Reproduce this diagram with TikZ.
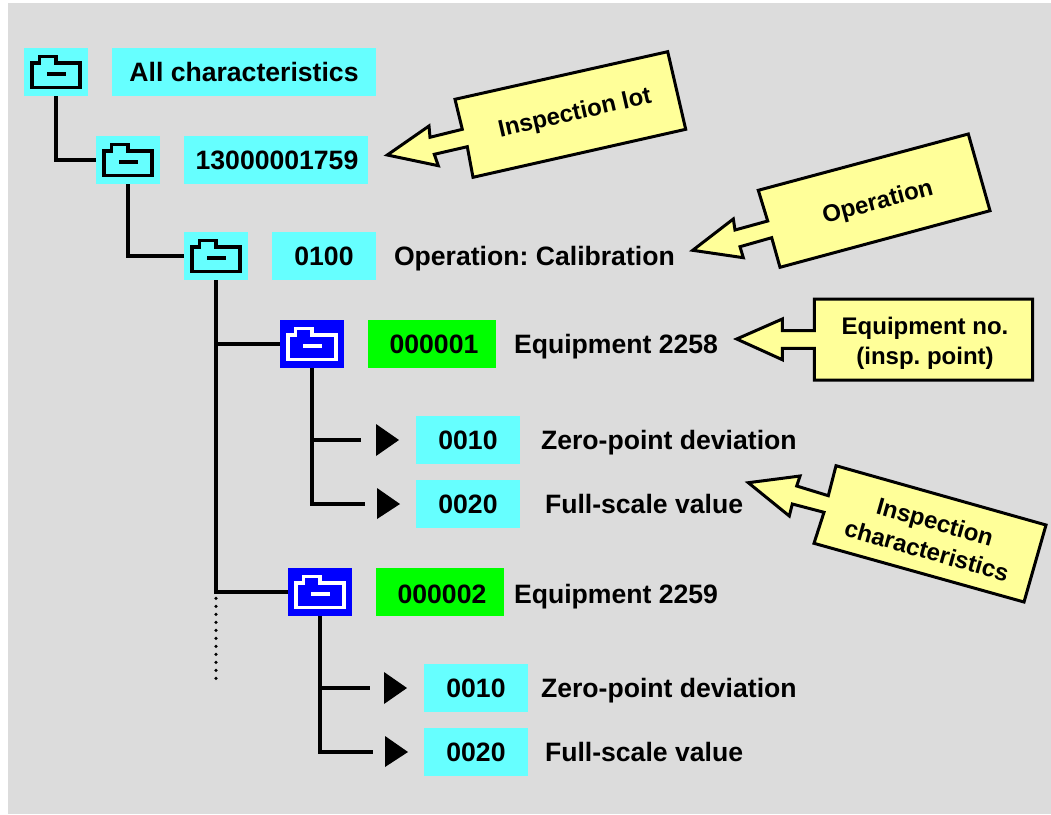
\documentclass[tikz,border=0pt]{standalone}
\usepackage{fontspec}
\setmainfont{Liberation Sans}
\frenchspacing
\definecolor{bggray}{HTML}{DCDCDC}
\definecolor{boxcyan}{HTML}{66FFFF}
\definecolor{boxgreen}{HTML}{00FF00}
\definecolor{boxblue}{HTML}{0000FF}
\definecolor{noteyellow}{HTML}{FFFF99}
\tikzset{
  every node/.style={inner sep=0pt,outer sep=0pt,font=\frenchspacing\fontsize{26.6}{30}\selectfont\bfseries},
  rowtext/.style={text height=33pt,text depth=15pt,minimum height=48pt},
  cell/.style={rowtext,fill=#1},
  iconcell/.style={minimum width=64pt,minimum height=48pt,fill=#1},
  label/.style={rowtext,anchor=west},
  link/.style={line width=4pt,black},
  dotlink/.style={black,line width=3.6pt,line cap=round,dash pattern=on 0pt off 8pt,dash phase=1.7pt},
  note/.style={draw=black,line width=3pt,fill=noteyellow,miter limit=10,line join=miter},
  notetext/.style={font=\frenchspacing\fontsize{24}{30}\selectfont\bfseries,align=center},
  folder/.pic={
    \draw[line width=3.6pt,draw=#1,line join=miter]
      (7.8,15.1)--(15.5,15.1)--(15.5,8.5)--(31.9,8.5)--(31.9,15.1)--(56.2,15.1)--(56.2,39.5)--(7.8,39.5)--cycle;
    \fill[#1] (23,23.7) rectangle (42,28);
  }
}
\begin{document}
\begin{tikzpicture}[x=1pt,y=-1pt]
\useasboundingbox (0,0) rectangle (1051,814);
\fill[bggray] (8,3) rectangle (1051,814);

% tree links
\coordinate (s1) at (361,440);
\coordinate (s2) at (365,504);
\coordinate (s3) at (370,688);
\coordinate (s4) at (373,752);
\coordinate (dotend) at (216,680.5);

% icon cells
\node[iconcell=boxcyan] (ic1) at (56,72) {};
\node[iconcell=boxcyan] (ic2) at (128,160) {};
\node[iconcell=boxcyan] (ic3) at (216,256) {};
\node[iconcell=boxblue] (ic4) at (312,344) {};
\node[iconcell=boxblue] (ic5) at (320,592) {};
\coordinate (b3) at (ic3.south |- ic5.west);
\coordinate (b3a) at (ic3.south |- ic4.west);

\draw[link] (ic1.south) |- (ic2.west);
\draw[link] (ic2.south) |- (ic3.west);
\draw[link] (ic3.south) -- (b3) -- (ic5.west);
\draw[link] (b3a) -- (ic4.west);
\draw[dotlink] (b3) -- (dotend);
\draw[link] (ic4.south) |- (s2);
\draw[link] (ic4.south |- s1) -- (s1);
\draw[link] (ic5.south) |- (s4);
\draw[link] (ic5.south |- s3) -- (s3);

\pic at (ic1.north west) {folder=black};
\pic at (ic2.north west) {folder=black};
\pic at (ic3.north west) {folder=black};
\pic at (ic4.north west) {folder=white};
\pic at (ic5.north west) {folder=white};

% triangles
\fill (376,424)--(399,440)--(376,456)--cycle;
\fill (377,488)--(400,504)--(377,519)--cycle;
\fill (384,672)--(407,688)--(384,704)--cycle;
\fill (385,736)--(408,752)--(385,767)--cycle;

% text cells
\node[cell=boxcyan,minimum width=264pt] (t1) at (244,72) {All characteristics};
\node[cell=boxcyan,minimum width=184pt] (t2) at (276,160) {\hspace{2pt}13000001759};
\node[cell=boxcyan,minimum width=104pt] (t3) at (324,256) {0100};
\node[cell=boxgreen,minimum width=128pt] (t4) at (432,344) {\hspace{4pt}000001};
\node[cell=boxcyan,minimum width=104pt] (t5) at (468,440) {0010};
\node[cell=boxcyan,minimum width=104pt] (t6) at (468,504) {0020};
\node[cell=boxgreen,minimum width=128pt] (t7) at (440,592) {\hspace{4pt}\raisebox{-2pt}{000002}};
\node[cell=boxcyan,minimum width=104pt] (t8) at (476,688) {0010};
\node[cell=boxcyan,minimum width=104pt] (t9) at (476,752) {0020};

\node[label] (l3) at (394,256) {Operation: Calibration};
\node[label] (l4) at (514,344) {Equipment 2258};
\node[label] (l5) at (541,440) {Zero-point deviation};
\node[label] (l6) at (545,504) {Full-scale value};
\node[label] (l7) at (514,594) {Equipment 2259};
\node[label] (l8) at (541,688) {Zero-point deviation};
\node[label] (l9) at (545,752) {Full-scale value};

% callouts
\draw[note] (455,99.3)--(667.7,51.7)--(685.7,129.3)--(473,177.3)--(467.3,146.7)--(434.3,154.3)--(438.3,165.7)--(387.3,155)--(429,126)--(430,137.3)--(462.3,129.3)--cycle;
\node[notetext,rotate=12.8] (n1) at (575,114) {Inspection lot};

\draw[note] (758.3,190.3)--(968.3,134)--(990,210.7)--(780,267.3)--(771.7,237.7)--(740,246.7)--(743.3,257.7)--(692.7,250.3)--(733.3,219)--(735,230)--(767.7,221)--cycle;
\node[notetext,rotate=15] (n2) at (878,203) {Operation};

\draw[note] (814.3,299)--(1032.7,299)--(1032.7,380)--(814.3,380)--(814.3,348.3)--(782.3,348.3)--(782.3,359.7)--(736.7,339)--(782.3,319)--(782.3,330.7)--(814.3,330.7)--cycle;
\node[notetext] (n3) at (925,343) {Equipment no.\\(insp. point)};

\draw[note] (836,465.7)--(1046,525)--(1024,602)--(814,543.3)--(824,512.3)--(792.3,504)--(789.3,516)--(748.3,482.7)--(800,476)--(796.7,486)--(828.3,495.7)--cycle;
\node[notetext,rotate=-15.8] (n4) at (931,536) {Inspection\\characteristics};
\end{tikzpicture}
\end{document}
